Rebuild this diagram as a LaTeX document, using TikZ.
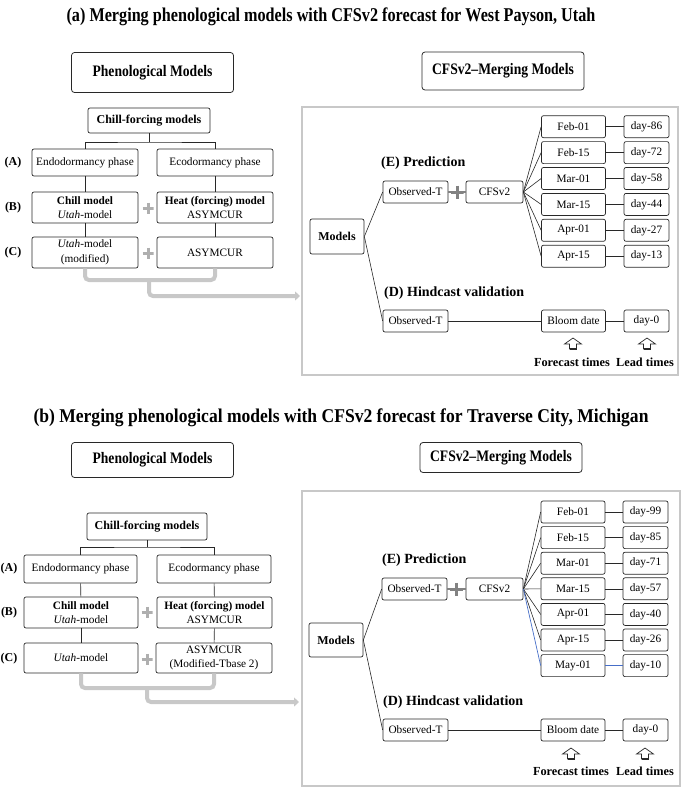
\documentclass[tikz,border=0pt]{standalone}
\usepackage{fontspec}
\setmainfont{Liberation Serif}
\usepackage{graphicx}
\usetikzlibrary{positioning, arrows.meta}
\definecolor{BoxLine}{RGB}{40,40,40}
\definecolor{PanelGray}{RGB}{200,200,200}
\definecolor{PlusGray}{RGB}{175,175,175}
\definecolor{PlusDark}{RGB}{130,130,130}
\definecolor{MayBlue}{RGB}{70,110,200}
\newcommand{\titletext}[2][0.87]{\scalebox{#1}[1]{\fontsize{19.5}{22}\selectfont\bfseries #2}}
\newcommand{\headtext}[1]{\scalebox{0.85}[1]{\fontsize{16}{19}\selectfont\bfseries #1}}
\newcommand{\uparrowmark}[1]{%
  \begin{scope}[shift={#1}]
    \draw[BoxLine, line width=0.7pt, fill=white] (-3.5,5) -- (-3.5,0) -- (-8.5,0) -- (0,-6) -- (8.5,0) -- (3.5,0) -- (3.5,5) -- cycle;
    \draw[BoxLine, line width=2pt] (-3.5,4.5) -- (3.5,4.5);
  \end{scope}}
\tikzset{
  heading/.style={draw=BoxLine, line width=0.8pt, rounded corners=3pt, inner sep=0pt, minimum width=162},
  box/.style={draw=BoxLine, line width=0.7pt, rounded corners=2pt, align=center, inner sep=1pt, font=\fontsize{11.3}{14.5}\selectfont},
  phase/.style={box, minimum width=106, minimum height=27},
  datebox/.style={box, minimum width=64, minimum height=22},
  daybox/.style={box, minimum width=45, minimum height=22},
  boldbox/.style={box, font=\bfseries\fontsize{12}{14}\selectfont},
  rowlabel/.style={font=\bfseries\fontsize{12}{14}\selectfont, inner sep=0pt},
  subhead/.style={font=\bfseries\fontsize{14}{16}\selectfont, inner sep=0pt, anchor=west},
  note/.style={font=\bfseries\fontsize{12.3}{14}\selectfont, inner sep=0pt},
  tree/.style={draw=BoxLine, line width=0.6pt},
  link/.style={draw=BoxLine, line width=0.6pt},
  bluelink/.style={draw=MayBlue, line width=0.7pt},
  plusline/.style={draw=PlusDark, line width=1.2pt},
  plus/.style={minimum size=11, inner sep=0pt, path picture={
      \draw[#1, line width=3pt] (path picture bounding box.north) -- (path picture bounding box.south)
        (path picture bounding box.west) -- (path picture bounding box.east);}},
  plus/.default=PlusGray,
  panel/.style={draw=PanelGray, line width=1.4pt},
  bracket/.style={draw=PanelGray, line width=4pt, rounded corners=4pt},
  bracketarrow/.style={bracket, -{Triangle[length=5pt, width=9pt]}}
}
\begin{document}
\begin{tikzpicture}[x=1pt, y=-1pt]
\useasboundingbox (0,0) rectangle (685,788);

% ---------- (a) West Payson ----------
\node (titleA) at (331,17) {\titletext[0.83]{(a) Merging phenological models with CFSv2 forecast for West Payson, Utah}};
\node[heading, minimum height=40] (phenoA) at (152.5,72.5) {\headtext{Phenological Models}};
\node[heading, minimum height=38] (mergeA) at (503,71) {\headtext{CFSv2--Merging Models}};

% Chill-forcing tree
\node[boldbox, minimum width=122, minimum height=25] (cfmA) at (149,120.5) {Chill-forcing models};
\node[phase] (endoA) at (85,162.5) {Endodormancy phase};
\node[phase, minimum width=116] (ecoA) at (215,162.5) {Ecodormancy phase};
\coordinate (jA) at (149,142);
\draw[tree] (cfmA) -- (jA);
\draw[tree] (endoA.north) |- (jA) -| (ecoA.north);

\node[phase, minimum height=31] (chillA) at (85,207.5) {\textbf{Chill model}\\\textit{Utah}-model};
\node[phase, minimum width=116, minimum height=31] (heatA) at (215,207.5) {\textbf{Heat (forcing) model}\\ASYMCUR};
\node[phase, minimum height=31] (utahA) at (85,252.5) {\textit{Utah}-model\\(modified)};
\node[phase, minimum width=116, minimum height=31] (asymA) at (215,252.5) {ASYMCUR};
\draw[tree] (endoA) -- (chillA);
\draw[tree] (chillA) -- (utahA);
\draw[tree] (ecoA) -- (heatA);
\draw[tree] (heatA) -- (asymA);
\node[plus] (plusBA) at (148,208) {};
\node[plus] (plusCA) at (148,253) {};

\node[rowlabel] (rowAA) at (13,163) {(A)};
\node[rowlabel] (rowBA) at (13,208) {(B)};
\node[rowlabel] (rowCA) at (13,253) {(C)};

% Grey bracket into the merging panel
\coordinate (brA) at (149,280);
\coordinate (inA) at (300,296);
\draw[bracket] (utahA.south) |- (brA) -| (asymA.south);
\draw[bracketarrow] (brA) |- (inA);

% Merging panel
\draw[panel] (302,107) rectangle (678,375);
\node[subhead] (predA) at (381,163) {(E) Prediction};
\node[box, minimum width=65, minimum height=22] (obsA) at (415.5,192) {Observed-T};
\node[box, minimum width=57, minimum height=22] (cfsA) at (494.5,192) {CFSv2};
\node[boldbox, minimum width=54, minimum height=35] (modA) at (337,236.5) {Models};
\draw[link] (modA.east) -- (obsA.west);
\draw[plusline] (obsA) -- (cfsA) node[plus=PlusDark, minimum size=13, midway] (plusEA) {};

\foreach \d/\l [count=\i] in {Feb-01/86, Feb-15/72, Mar-01/58, Mar-15/44, Apr-01/27, Apr-15/13} {
  \node[datebox] (dA\i) at (573.5,100.8+25.9*\i) {\d};
  \node[daybox] (lA\i) at (646.5,100.8+25.9*\i) {day-\l};
  \draw[link] (cfsA.east) -- (dA\i.west);
  \draw[link] (dA\i) -- (lA\i);
}

\node[subhead] (hindA) at (384,293) {(D) Hindcast validation};
\node[box, minimum width=65, minimum height=22] (obsDA) at (415.5,321) {Observed-T};
\node[datebox] (bloomA) at (573.5,321) {Bloom date};
\node[daybox] (zeroA) at (646.5,321) {day-0};
\draw[link] (modA.east) -- (obsDA.west);
\draw[link] (obsDA) -- (bloomA);
\draw[link] (bloomA) -- (zeroA);
\uparrowmark{(573,344)}
\uparrowmark{(647,344)}
\node[note] (fcA) at (572,362) {Forecast times};
\node[note] (ltA) at (645,362) {Lead times};

% ---------- (b) Traverse City ----------
\node (titleB) at (341,418) {\titletext[0.9]{(b) Merging phenological models with CFSv2 forecast for Traverse City, Michigan}};
\node[heading, minimum height=35] (phenoB) at (152.5,460) {\headtext{Phenological Models}};
\node[heading, minimum height=30] (mergeB) at (501,457.5) {\headtext{CFSv2--Merging Models}};

% Chill-forcing tree
\node[boldbox, minimum width=120, minimum height=27] (cfmB) at (147,526.5) {Chill-forcing models};
\node[phase, minimum width=113, minimum height=28] (endoB) at (80.5,569) {Endodormancy phase};
\node[phase, minimum width=114, minimum height=28] (ecoB) at (214,569) {Ecodormancy phase};
\coordinate (jB) at (147,547);
\draw[tree] (cfmB) -- (jB);
\draw[tree] (endoB.north) |- (jB) -| (ecoB.north);

\node[phase, minimum width=114, minimum height=31] (chillB) at (81,612.5) {\textbf{Chill model}\\\textit{Utah}-model};
\node[phase, minimum width=115, minimum height=31] (heatB) at (214.5,612.5) {\textbf{Heat (forcing) model}\\ASYMCUR};
\node[phase, minimum width=114, minimum height=30] (utahB) at (81,658) {\textit{Utah}-model};
\node[phase, minimum width=116, minimum height=30] (asymB) at (214,658) {ASYMCUR\\(Modified-Tbase 2)};
\draw[tree] (endoB) -- (chillB);
\draw[tree] (chillB) -- (utahB);
\draw[tree] (ecoB) -- (heatB);
\draw[tree] (heatB) -- (asymB);
\node[plus] (plusBB) at (147,612) {};
\node[plus] (plusCB) at (147,659) {};

\node[rowlabel] (rowAB) at (9,569) {(A)};
\node[rowlabel] (rowBB) at (9,613) {(B)};
\node[rowlabel] (rowCB) at (9,659) {(C)};

% Grey bracket into the merging panel
\coordinate (brB) at (147,688);
\coordinate (inB) at (299,702);
\draw[bracket] (utahB.south) |- (brB) -| (asymB.south);
\draw[bracketarrow] (brB) |- (inB);

% Merging panel
\draw[panel] (302,491) rectangle (680,786);
\node[subhead] (predB) at (382,560) {(E) Prediction};
\node[box, minimum width=65, minimum height=22] (obsB) at (414.5,589) {Observed-T};
\node[box, minimum width=57, minimum height=22] (cfsB) at (494.5,589) {CFSv2};
\node[boldbox, minimum width=54, minimum height=34] (modB) at (336,640) {Models};
\draw[link] (modB.east) -- (obsB.west);
\draw[plusline] (obsB) -- (cfsB) node[plus=PlusDark, minimum size=13, midway] (plusEB) {};

\foreach \d/\l [count=\i] in {Feb-01/99, Feb-15/85, Mar-01/71, Mar-15/57, Apr-01/40, Apr-15/26} {
  \node[datebox] (dB\i) at (573,486.4+25.6*\i) {\d};
  \node[daybox] (lB\i) at (645.5,486.4+25.6*\i) {day-\l};
  \draw[link] (cfsB.east) -- (dB\i.west);
  \draw[link] (dB\i) -- (lB\i);
}
\node[datebox] (dB7) at (573,665.6) {May-01};
\node[daybox] (lB7) at (645.5,665.6) {day-10};
\draw[bluelink] (cfsB.east) -- (dB7.west);
\draw[bluelink] (dB7) -- (lB7);

\node[subhead] (hindB) at (383,702) {(D) Hindcast validation};
\node[box, minimum width=65, minimum height=22] (obsDB) at (415.5,730) {Observed-T};
\node[datebox] (bloomB) at (573,730) {Bloom date};
\node[daybox] (zeroB) at (645.5,730) {day-0};
\draw[link] (modB.east) -- (obsDB.west);
\draw[link] (obsDB) -- (bloomB);
\draw[link] (bloomB) -- (zeroB);
\uparrowmark{(571,754)}
\uparrowmark{(645,754)}
\node[note] (fcB) at (571,771) {Forecast times};
\node[note] (ltB) at (645,771) {Lead times};
\end{tikzpicture}
\end{document}
